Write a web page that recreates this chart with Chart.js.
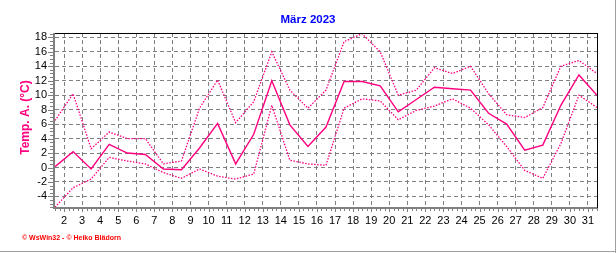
<!DOCTYPE html>
<html><head><meta charset="utf-8">
<script src="https://cdn.jsdelivr.net/npm/chart.js@4.4.0/dist/chart.umd.min.js"></script>
<style>html,body{margin:0;padding:0;background:#fff;}canvas{display:block;}</style>
</head><body>
<canvas id="c" width="616" height="253"></canvas>
<script>
const chartTitle = 'März 2023';
const yAxisTitle = 'Temp. A. (°C)';
const footerText = '© WsWin32 - © Heiko Blädorn';
const days = [1,2,3,4,5,6,7,8,9,10,11,12,13,14,15,16,17,18,19,20,21,22,23,24,25,26,27,28,29,30,31];
const tempMax  = [6.5,10.2,2.6,4.9,4.0,4.0,0.5,0.9,8.2,12.1,6.2,9.1,16.0,10.7,8.2,10.7,17.4,18.5,16.0,10.0,10.7,13.8,13.0,14.0,10.2,7.3,6.9,8.3,14.0,14.8,13.0];
const tempMean = [0.1,2.2,-0.2,3.2,2.0,1.8,-0.2,-0.3,2.7,6.1,0.5,4.6,12.0,5.9,2.9,5.6,11.9,11.9,11.3,7.7,9.4,11.1,10.9,10.7,7.5,6.0,2.4,3.1,8.6,12.8,10.0];
const tempMin  = [-5.5,-2.8,-1.6,1.4,0.9,0.5,-0.7,-1.5,-0.2,-1.2,-1.6,-0.9,8.6,1.0,0.5,0.3,8.2,9.5,9.2,6.6,7.9,8.5,9.5,8.2,5.9,2.9,-0.4,-1.5,3.3,10.0,8.3];
const xTickLabels = ['2','3','4','5','6','7','8','9','10','11','12','13','14','15','16','17','18','19','20','21','22','23','24','25','26','27','28','29','30','31'];
const yTickValues = [-4,-2,0,2,4,6,8,10,12,14,16,18];
const yRange = [-5.6, 18.6];
const xRange = [1.5, 31.5];

const PINK = '#ff0080';
const GRAY = '#808080';
const FONT = '"Liberation Sans", Arial, sans-serif';

// daily values plotted at noon of each day; tick labels mark the start of a day
const pts = arr => days.map((d, i) => ({x: d + 0.5, y: arr[i]}));

const decor = {
  id: 'decor',
  beforeDraw(chart) {
    const c = chart.ctx;
    c.save(); c.fillStyle = '#fff'; c.fillRect(0, 0, chart.width, chart.height); c.restore();
  },
  afterDraw(chart) {
    const c = chart.ctx, a = chart.chartArea, xs = chart.scales.x, ys = chart.scales.y;
    c.save();
    c.fillStyle = GRAY;
    c.fillRect(a.left - 2, a.top, 2, a.bottom - a.top + 1);
    c.fillRect(a.left - 2, a.bottom - 1, a.right - a.left + 3, 2);
    c.strokeStyle = GRAY; c.lineWidth = 1;
    c.beginPath();
    for (let v = xRange[0]; v <= xRange[1] + 1e-6; v += 0.25) {
      const px = Math.round(xs.getPixelForValue(v)) + 0.5;
      const major = Math.abs(v - Math.round(v)) < 1e-6;
      c.moveTo(px, a.bottom + 1); c.lineTo(px, a.bottom + (major ? 4 : 3));
    }
    for (let v = Math.ceil(yRange[0] * 2) / 2; v <= yRange[1] + 1e-6; v += 0.5) {
      const py = Math.round(ys.getPixelForValue(v)) + 0.5;
      const major = yTickValues.includes(v);
      c.moveTo(a.left - 2, py); c.lineTo(a.left - (major ? 7 : 5), py);
    }
    c.stroke();
    c.fillStyle = '#000';
    c.fillRect(a.left, a.top, a.right - a.left + 1, 1);
    c.fillRect(a.right, a.top, 1, a.bottom - a.top);
    c.fillStyle = '#a0a0a0';
    c.fillRect(615, 0, 1, chart.height);
    c.fillRect(0, 251, chart.width, 1);
    c.fillStyle = '#0000ff';
    c.font = 'bold 11.5px ' + FONT;
    c.textAlign = 'center'; c.textBaseline = 'middle';
    c.fillText(chartTitle, 308, 19.5);
    c.save();
    c.translate(26, 117.5); c.rotate(-Math.PI / 2);
    c.fillStyle = PINK; c.font = 'bold 12px ' + FONT;
    c.fillText(yAxisTitle, 0, 0);
    c.restore();
    c.fillStyle = '#ff0000';
    c.font = 'bold 7px ' + FONT;
    c.textAlign = 'left';
    c.fillText(footerText, 22, 238.5);
    c.restore();
  }
};

const lineDs = (label, arr, dash, w) => ({
  label, data: pts(arr), borderColor: PINK, backgroundColor: PINK,
  borderWidth: w, borderDash: dash, pointRadius: 0, fill: false, tension: 0
});

new Chart(document.getElementById('c'), {
  type: 'line',
  data: { datasets: [
    lineDs('Max', tempMax, [1.5, 1.5], 1.3),
    lineDs('Mittel', tempMean, [], 1.4),
    lineDs('Min', tempMin, [1.5, 1.5], 1.3)
  ]},
  options: {
    responsive: false, animation: false, devicePixelRatio: 1,
    layout: { padding: { top: 33, right: 19, left: 0, bottom: 0 } },
    plugins: { legend: { display: false }, tooltip: { enabled: false }, title: { display: false } },
    scales: {
      x: {
        type: 'linear', min: xRange[0], max: xRange[1],
        afterFit(s) { s.height = 45; },
        afterBuildTicks(s) { s.ticks = xTickLabels.map(l => ({ value: Number(l) })); },
        ticks: { autoSkip: false, maxRotation: 0, padding: 6, color: '#000',
                 font: { family: FONT, size: 11 }, callback: (v, i) => xTickLabels[i] },
        grid: { color: GRAY, lineWidth: 1, drawTicks: false },
        border: { display: false, dash: [4, 3] }
      },
      y: {
        min: yRange[0], max: yRange[1],
        afterFit(s) { s.width = 55; },
        afterBuildTicks(s) { s.ticks = yTickValues.map(v => ({ value: v })); },
        ticks: { autoSkip: false, padding: 8, color: '#000', font: { family: FONT, size: 11 }, callback: v => String(v) },
        grid: { color: GRAY, lineWidth: 1, drawTicks: false },
        border: { display: false, dash: [4, 3] }
      }
    }
  },
  plugins: [decor]
});
</script>
</body></html>
